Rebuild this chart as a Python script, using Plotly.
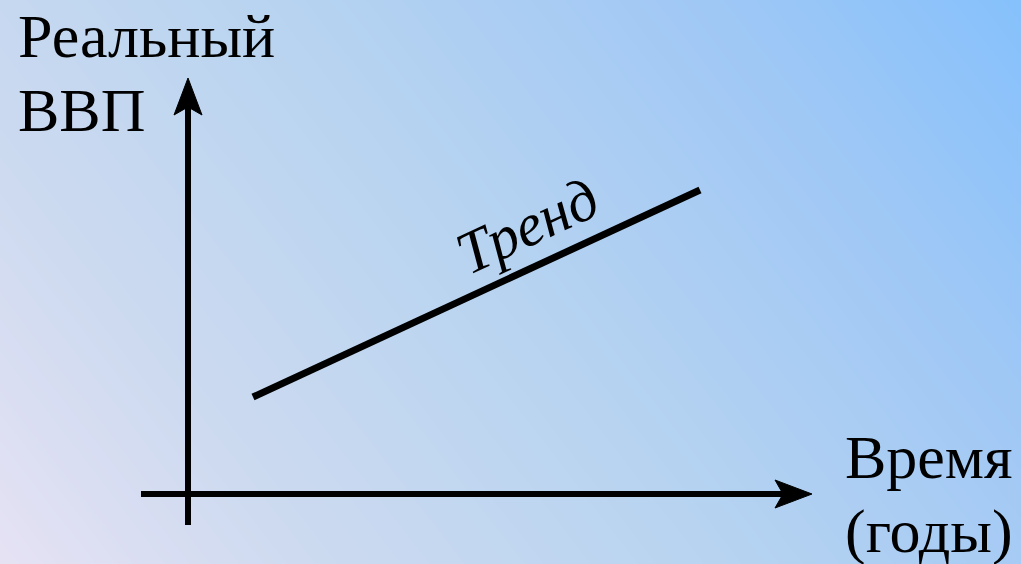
"""
Diagram: real GDP trend over time.
"""

import numpy as np
import plotly.graph_objects as go

W, H = 1021, 564
FONT = "Liberation Serif, Times New Roman, serif"

# axis extents (chart units, origin at the axes crossing)
x_axis_x = [-47, 624]
x_axis_y = [0, 0]
y_axis_x = [0, 0]
y_axis_y = [-31, 416]

# trend line
trend_x = [65, 512]
trend_y = [97, 304]

# labels
y_label = ["Реальный", "ВВП"]
x_label = ["Время", "(годы)"]
trend_label = "Тренд"

X_RANGE = [-188, 833]
Y_RANGE = [-70, 494]

# background gradient: bottom-left lavender -> top-right blue
BG_SCALE = [
    [0.0, "#e6e2f4"],
    [0.21, "#cddaf0"],
    [0.47, "#b9d4f0"],
    [0.78, "#a0c8f5"],
    [1.0, "#86c1fc"],
]


def arrow_head(tip_x, tip_y, dx, dy, length=37, half=14, notch=8):
    """Barbed arrowhead polygon pointing along (dx, dy)."""
    px, py = -dy, dx
    bx, by = tip_x - dx * length, tip_y - dy * length
    nx, ny = tip_x - dx * (length - notch), tip_y - dy * (length - notch)
    xs = [tip_x, bx + px * half, nx, bx - px * half, tip_x]
    ys = [tip_y, by + py * half, ny, by - py * half, tip_y]
    return xs, ys


fig = go.Figure()

gx = np.linspace(X_RANGE[0], X_RANGE[1], 40)
gy = np.linspace(Y_RANGE[0], Y_RANGE[1], 30)
GX, GY = np.meshgrid(gx, gy)
t = 0.7 * (GX - X_RANGE[0]) / W + 0.3 * (GY - Y_RANGE[0]) / H
fig.add_trace(go.Heatmap(
    x=gx, y=gy, z=t, zmin=0, zmax=1, colorscale=BG_SCALE,
    zsmooth="best", showscale=False, hoverinfo="skip",
))

line_style = dict(color="black", width=6)
fig.add_trace(go.Scatter(
    x=[x_axis_x[0], x_axis_x[1] - 29], y=x_axis_y,
    mode="lines", line=line_style, hoverinfo="skip",
))
fig.add_trace(go.Scatter(
    x=y_axis_x, y=[y_axis_y[0], y_axis_y[1] - 29],
    mode="lines", line=line_style, hoverinfo="skip",
))
for hx, hy in (arrow_head(x_axis_x[1], x_axis_y[1], 1, 0),
               arrow_head(y_axis_x[1], y_axis_y[1], 0, 1)):
    fig.add_trace(go.Scatter(
        x=hx, y=hy, mode="lines", fill="toself", fillcolor="black",
        line=dict(color="black", width=1), hoverinfo="skip",
    ))

fig.add_trace(go.Scatter(
    x=trend_x, y=trend_y, mode="lines",
    line=dict(color="black", width=7), hoverinfo="skip",
))

big = dict(family=FONT, size=62, color="black")
fig.add_annotation(x=-172, y=458, text=y_label[0], showarrow=False,
                   xanchor="left", yanchor="middle", font=big)
fig.add_annotation(x=-172, y=384, text=y_label[1], showarrow=False,
                   xanchor="left", yanchor="middle", font=big)
fig.add_annotation(x=655, y=37, text=x_label[0], showarrow=False,
                   xanchor="left", yanchor="middle", font=big)
fig.add_annotation(x=655, y=-37, text=x_label[1], showarrow=False,
                   xanchor="left", yanchor="middle", font=big)
fig.add_annotation(x=339, y=268, text=f"<i>{trend_label}</i>", showarrow=False,
                   textangle=-25, font=dict(family=FONT, size=60, color="black"))

fig.update_layout(
    width=W, height=H,
    margin=dict(l=0, r=0, t=0, b=0),
    showlegend=False,
    paper_bgcolor="#c0d6f0",
    plot_bgcolor="#c0d6f0",
    xaxis=dict(range=X_RANGE, visible=False, fixedrange=True),
    yaxis=dict(range=Y_RANGE, visible=False, fixedrange=True),
)

fig.write_html(
    "out.html",
    config={"displayModeBar": False},
    post_script="document.body.style.margin = '0';",
)
